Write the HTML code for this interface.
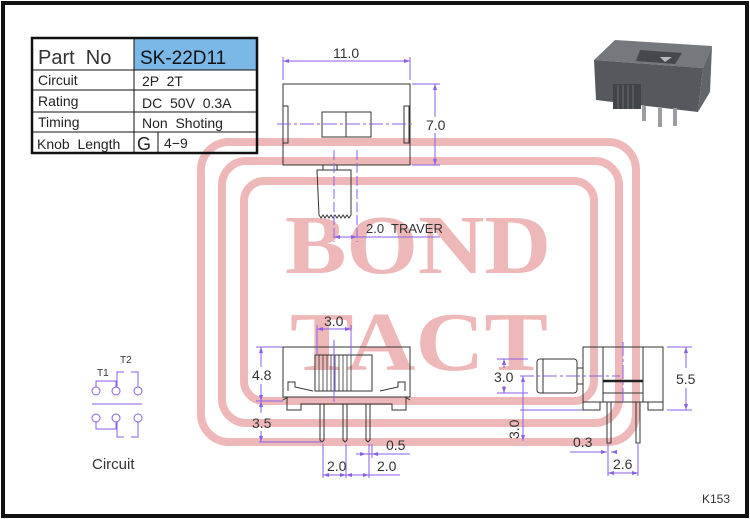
<!DOCTYPE html>
<html><head><meta charset="utf-8"><style>
html,body{margin:0;padding:0;background:#fff;}
svg{display:block;font-family:"Liberation Sans",sans-serif;}
text{white-space:pre;}
</style></head><body>
<svg width="750" height="519" viewBox="0 0 750 519" xmlns="http://www.w3.org/2000/svg" xml:space="preserve">
<rect x="0" y="0" width="750" height="519" fill="#fff"/>
<rect x="3" y="3" width="744" height="513" fill="none" stroke="#111" stroke-width="4"/>

<!-- watermark -->
<g fill="none" stroke="#efb8b8" stroke-width="8">
<rect x="201" y="142" width="435" height="300" rx="28"/>
<rect x="222" y="161" width="397" height="262" rx="24"/>
<rect x="244" y="181" width="350" height="220" rx="20"/>
</g>
<g fill="#efb8b8" font-family="Liberation Serif,serif" font-weight="bold" font-size="84" text-anchor="middle">
<text x="418" y="273" textLength="266" lengthAdjust="spacingAndGlyphs">BOND</text>
<text x="419" y="370" textLength="258" lengthAdjust="spacingAndGlyphs">TACT</text>
</g>

<!-- table -->
<g font-size="14" fill="#222">
<rect x="134" y="39" width="122" height="31" fill="#7ab8e8"/>
<rect x="32" y="38" width="225" height="115" fill="none" stroke="#111" stroke-width="2.5"/>
<g stroke="#111" stroke-width="1">
<line x1="32" y1="70" x2="257" y2="70"/><line x1="32" y1="90" x2="257" y2="90"/>
<line x1="32" y1="112" x2="257" y2="112"/><line x1="32" y1="132" x2="257" y2="132"/>
<line x1="134" y1="38" x2="134" y2="153"/><line x1="158" y1="132" x2="158" y2="153"/>
</g>
<text x="38" y="64" font-size="20" fill="#333">Part  No</text>
<text x="140" y="64" font-size="19" fill="#111">SK-22D11</text>
<text x="38" y="85">Circuit</text><text x="142" y="86">2P  2T</text>
<text x="38" y="106">Rating</text><text x="142" y="108">DC  50V  0.3A</text>
<text x="38" y="127">Timing</text><text x="142" y="128">Non  Shoting</text>
<text x="37" y="149">Knob  Length</text><text x="137" y="150" font-size="18">G</text><text x="164" y="148">4−9</text>
</g>

<!-- drawings black -->
<g fill="none" stroke="#333" stroke-width="1">
<rect x="283" y="84" width="127" height="81"/>
<rect x="283" y="106" width="5" height="37"/><rect x="404" y="106" width="5" height="37"/>
<rect x="322" y="112" width="49" height="25"/><line x1="346" y1="112" x2="346" y2="137"/>
<rect x="323" y="165" width="14" height="5"/>
<path d="M317 170 H351 V215 l-2 3 l-2 -3 l-2 3 l-2 -3 l-2 3 l-2 -3 l-2 3 l-2 -3 l-2 3 l-2 -3 l-2 3 l-2 -3 l-2 3 l-2 -3 l-2 3 l-2 -3 Z"/>
<rect x="283" y="347" width="127" height="50"/>
<rect x="315" y="355" width="57" height="36"/>
<g stroke-width="0.8"><line x1="319" y1="355" x2="319" y2="391"/><line x1="323" y1="355" x2="323" y2="391"/><line x1="327" y1="355" x2="327" y2="391"/><line x1="331" y1="355" x2="331" y2="391"/><line x1="335" y1="355" x2="335" y2="391"/><line x1="339" y1="355" x2="339" y2="391"/><line x1="343" y1="355" x2="343" y2="391"/><line x1="347" y1="355" x2="347" y2="391"/><line x1="351" y1="355" x2="351" y2="391"/></g>
<path d="M288 391 V382 H295 V387 L313 391 M405 391 V382 H398 V387 L380 391"/>
<path d="M283 400 L288 397 H405 L410 400 M287 397 V410 H301 V404 H392 V410 H406 V397"/>
<path d="M320 404 V440 l2 2 l2 -2 V404 M343 404 V440 l2 2 l2 -2 V404 M366 404 V440 l2 2 l2 -2 V404"/>
<rect x="537" y="359" width="40" height="34" rx="3"/>
<line x1="543" y1="359" x2="543" y2="393"/>
<rect x="577" y="368" width="6" height="16"/>
<rect x="583" y="347" width="80" height="55"/>
<line x1="603" y1="347" x2="603" y2="402"/><line x1="643" y1="347" x2="643" y2="402"/>
<rect x="603" y="381" width="40" height="12"/>
<line x1="603" y1="381" x2="643" y2="381" stroke-width="2.5" stroke="#222"/>
<rect x="583" y="402" width="17" height="8"/><rect x="648" y="402" width="15" height="8"/>
<rect x="607" y="402" width="4" height="41"/><rect x="636" y="402" width="4" height="41"/>
</g>

<!-- photo -->
<g>
<polygon points="594,60 615,40 712,46 703,68" fill="#75797d"/>
<polygon points="594,60 703,68 698,112 596,100" fill="#55595d"/>
<polygon points="703,68 712,46 710,92 698,112" fill="#62666a"/>
<polygon points="640,50 682,53 675,64 636,61" fill="#45484c"/>
<polygon points="660,57 672,57 665,62" fill="#bbb"/>
<rect x="613" y="84" width="28" height="25" fill="#404347"/>
<g stroke="#6a6e72" stroke-width="1"><line x1="618" y1="85" x2="618" y2="109"/><line x1="623" y1="85" x2="623" y2="109"/><line x1="628" y1="85" x2="628" y2="109"/><line x1="633" y1="85" x2="633" y2="109"/></g>
<g fill="#9a9ea2"><rect x="642" y="106" width="4" height="15"/><rect x="658" y="108" width="4" height="19"/><rect x="673" y="108" width="4" height="18"/></g>
</g>

<!-- dimensions purple -->
<g stroke="#8a5ee8" stroke-width="1" fill="none">
<line x1="283" y1="57" x2="283" y2="80"/><line x1="410" y1="57" x2="410" y2="80"/>
<line x1="283" y1="61" x2="410" y2="61"/>
<line x1="412" y1="84" x2="440" y2="84"/><line x1="412" y1="165" x2="440" y2="165"/>
<line x1="435" y1="84" x2="435" y2="117"/><line x1="435" y1="133" x2="435" y2="165"/>
<line x1="277" y1="124" x2="415" y2="124" stroke-dasharray="14,3,3,3"/>
<line x1="334" y1="150" x2="334" y2="242" stroke-dasharray="10,3"/>
<line x1="357" y1="150" x2="357" y2="242" stroke-dasharray="10,3"/>
<line x1="334" y1="237" x2="440" y2="237"/>
<line x1="317" y1="325" x2="317" y2="355"/><line x1="351" y1="325" x2="351" y2="355"/>
<line x1="317" y1="329" x2="351" y2="329"/>
<line x1="334" y1="340" x2="334" y2="402"/>
<line x1="256" y1="347" x2="283" y2="347"/><line x1="256" y1="401" x2="283" y2="401"/>
<line x1="261" y1="347" x2="261" y2="367"/><line x1="261" y1="384" x2="261" y2="401"/>
<line x1="261" y1="401" x2="261" y2="413"/><line x1="261" y1="431" x2="261" y2="442"/>
<line x1="259" y1="442" x2="322" y2="442"/>
<line x1="323" y1="444" x2="323" y2="478"/><line x1="346" y1="444" x2="346" y2="478"/><line x1="369" y1="444" x2="369" y2="478"/>
<line x1="372" y1="444" x2="372" y2="458"/>
<line x1="323" y1="475" x2="400" y2="475"/>
<line x1="356" y1="454" x2="410" y2="454"/>
<line x1="497" y1="359" x2="528" y2="359"/><line x1="497" y1="393" x2="528" y2="393"/>
<line x1="504" y1="359" x2="504" y2="368"/><line x1="504" y1="386" x2="504" y2="393"/>
<line x1="520" y1="376" x2="620" y2="376" stroke-dasharray="14,3,3,3"/>
<line x1="523" y1="376" x2="523" y2="441"/>
<line x1="520" y1="410" x2="583" y2="410"/>
<line x1="623" y1="342" x2="623" y2="405" stroke-dasharray="14,3,3,3"/>
<line x1="667" y1="347" x2="692" y2="347"/><line x1="667" y1="410" x2="692" y2="410"/>
<line x1="686" y1="347" x2="686" y2="368"/><line x1="686" y1="388" x2="686" y2="410"/>
<line x1="570" y1="452" x2="607" y2="452"/><line x1="611" y1="452" x2="616" y2="452"/>
<line x1="608" y1="444" x2="608" y2="476"/><line x1="638" y1="444" x2="638" y2="476"/>
<line x1="608" y1="473" x2="638" y2="473"/>
<circle cx="96" cy="391" r="4"/><circle cx="116" cy="391" r="4"/><circle cx="138" cy="391" r="4"/>
<circle cx="96" cy="418" r="4"/><circle cx="116" cy="418" r="4"/><circle cx="138" cy="418" r="4"/>
<line x1="92" y1="404" x2="142" y2="404"/>
<path d="M96 387 V381 H116 V387 M117 387 V372 H124 M131 372 H138 V387"/>
<path d="M96 422 V429 H116 V422 M117 422 V437 H124 M131 437 H138 V422"/>
</g>
<g fill="#8a5ee8">
<polygon points="283,61 289,59 289,63"/><polygon points="410,61 404,59 404,63"/>
<polygon points="435,84 433,90 437,90"/><polygon points="435,165 433,159 437,159"/>
<polygon points="334,237 340,235 340,239"/><polygon points="357,237 351,235 351,239"/>
<polygon points="317,329 323,327 323,331"/><polygon points="351,329 345,327 345,331"/>
<polygon points="261,347 259,353 263,353"/><polygon points="261,401 259,395 263,395"/>
<polygon points="261,401 259,407 263,407"/><polygon points="261,442 259,436 263,436"/>
<polygon points="323,475 329,473 329,477"/><polygon points="346,475 340,473 340,477"/><polygon points="346,475 352,473 352,477"/><polygon points="369,475 363,473 363,477"/>
<polygon points="366,454 360,452 360,456"/><polygon points="372,454 378,452 378,456"/>
<polygon points="504,359 502,365 506,365"/><polygon points="504,393 502,387 506,387"/>
<polygon points="523,376 521,382 525,382"/><polygon points="523,441 521,435 525,435"/>
<polygon points="686,347 684,353 688,353"/><polygon points="686,410 684,404 688,404"/>
<polygon points="607,452 601,450 601,454"/><polygon points="611,452 617,450 617,454"/>
<polygon points="608,473 614,471 614,475"/><polygon points="638,473 632,471 632,475"/>
</g>

<g font-size="14" fill="#333">
<text x="333" y="58">11.0</text>
<text x="426" y="130">7.0</text>
<text x="366" y="233" font-size="13">2.0  TRAVER</text>
<text x="324" y="326">3.0</text>
<text x="252" y="380">4.8</text>
<text x="252" y="428">3.5</text>
<text x="386" y="450">0.5</text>
<text x="327" y="471">2.0</text>
<text x="377" y="471">2.0</text>
<text x="494" y="382">3.0</text>
<text x="676" y="384">5.5</text>
<text x="0" y="0" transform="translate(519,439) rotate(-90)">3.0</text>
<text x="573" y="447">0.3</text>
<text x="613" y="469">2.6</text>
<text x="97" y="376" font-size="10">T1</text>
<text x="120" y="363" font-size="10">T2</text>
<text x="92" y="469" font-size="15">Circuit</text>
<text x="702" y="503" font-size="12">K153</text>
</g>
</svg>
</body></html>
